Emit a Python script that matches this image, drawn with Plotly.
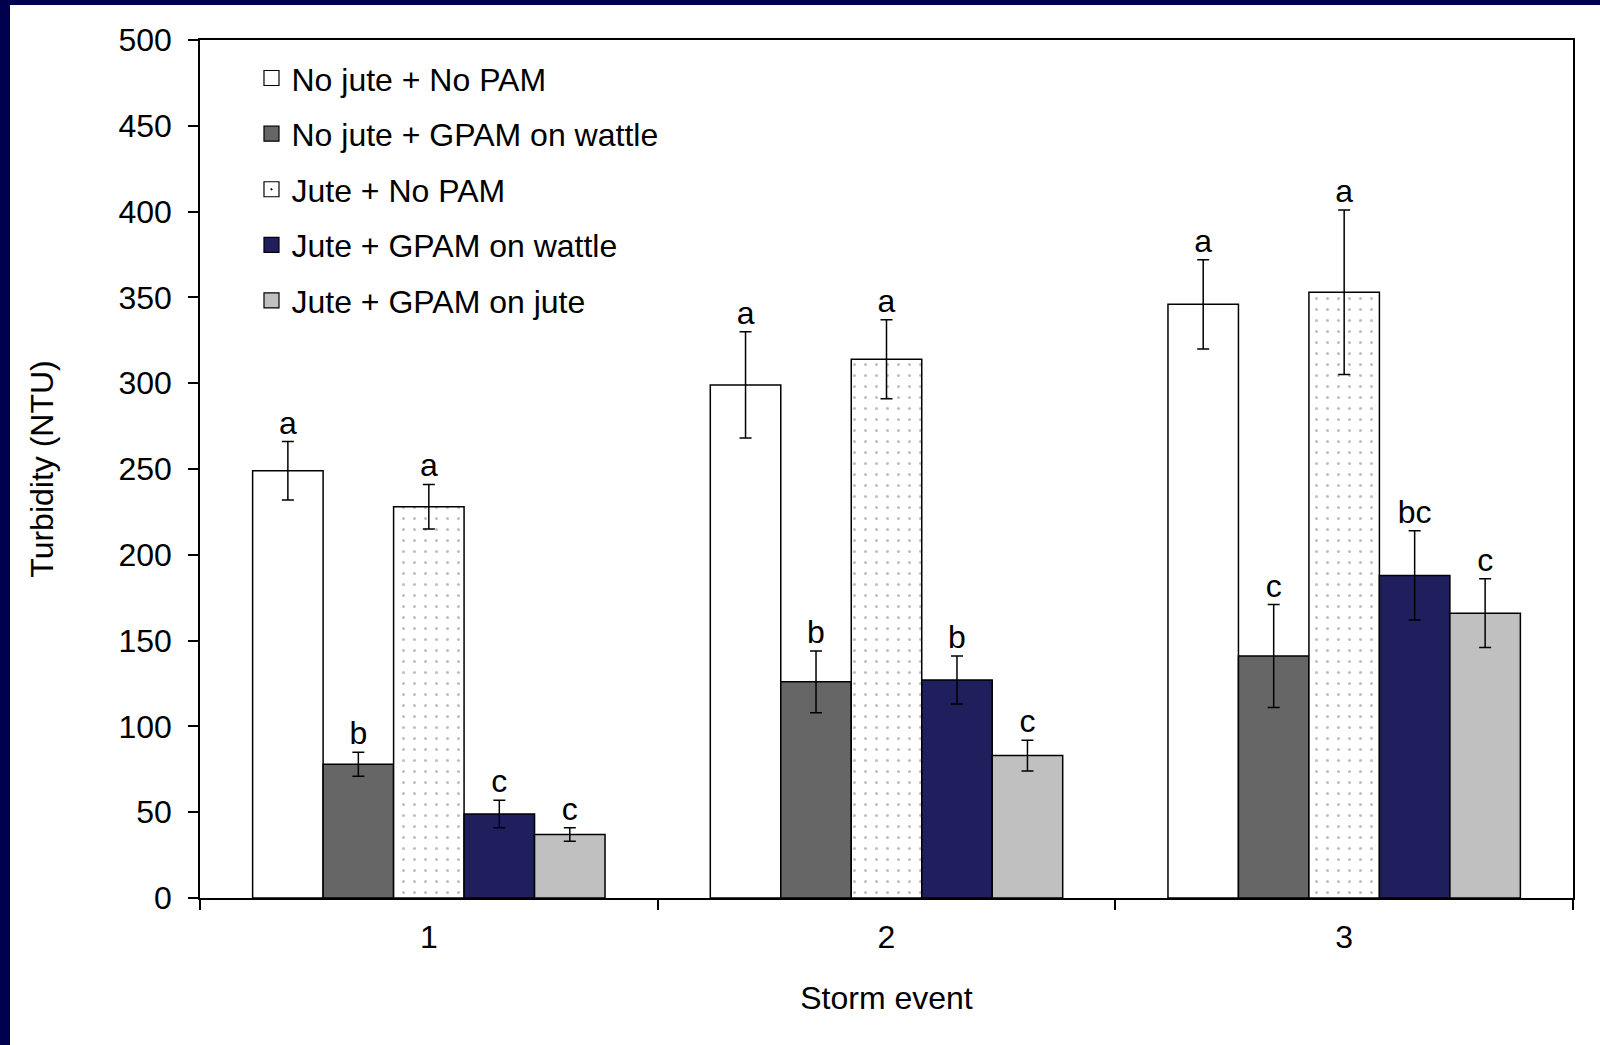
import plotly.graph_objects as go

# ---- data ----
storm_events = ["1", "2", "3"]
series_names = [
    "No jute + No PAM",
    "No jute + GPAM on wattle",
    "Jute + No PAM",
    "Jute + GPAM on wattle",
    "Jute + GPAM on jute",
]
no_jute_no_pam = [249, 299, 346]
no_jute_gpam_wattle = [78, 126, 141]
jute_no_pam = [228, 314, 353]
jute_gpam_wattle = [49, 127, 188]
jute_gpam_jute = [37, 83, 166]

err_no_jute_no_pam = [17, 31, 26]
err_no_jute_gpam_wattle = [7, 18, 30]
err_jute_no_pam = [13, 23, 48]
err_jute_gpam_wattle = [8, 14, 26]
err_jute_gpam_jute = [4, 9, 20]

letters_no_jute_no_pam = ["a", "a", "a"]
letters_no_jute_gpam_wattle = ["b", "b", "c"]
letters_jute_no_pam = ["a", "a", "a"]
letters_jute_gpam_wattle = ["c", "b", "bc"]
letters_jute_gpam_jute = ["c", "c", "c"]

y_ticks = [0, 50, 100, 150, 200, 250, 300, 350, 400, 450, 500]

values = [no_jute_no_pam, no_jute_gpam_wattle, jute_no_pam, jute_gpam_wattle, jute_gpam_jute]
errors = [err_no_jute_no_pam, err_no_jute_gpam_wattle, err_jute_no_pam, err_jute_gpam_wattle, err_jute_gpam_jute]
letters = [letters_no_jute_no_pam, letters_no_jute_gpam_wattle, letters_jute_no_pam,
           letters_jute_gpam_wattle, letters_jute_gpam_jute]

# ---- styles ----
FONT = "Arial, Liberation Sans, sans-serif"
FS = 32
fills = ["#FFFFFF", "#666666", "#FFFFFF", "#1F1F5E", "#C0C0C0"]
patterns = [None, None, dict(shape=".", fgcolor="#808080", bgcolor="#FFFFFF", size=11, solidity=0.06),
            None, None]
legend_symbols = ["square", "square", "square-dot", "square", "square"]
NAVY = "#00004E"

fig = go.Figure()
for i, name in enumerate(series_names):
    marker = dict(color=fills[i], line=dict(color="black", width=1.5))
    if patterns[i] is not None:
        marker["pattern"] = patterns[i]
    fig.add_trace(go.Bar(
        x=storm_events, y=values[i], name=name, marker=marker,
        offsetgroup=str(i), showlegend=False,
        error_y=dict(type="data", array=errors[i], visible=True, color="black",
                     thickness=1.5, width=6),
    ))

for i, name in enumerate(series_names):
    tops = [v + e for v, e in zip(values[i], errors[i])]
    fig.add_trace(go.Scatter(
        x=storm_events, y=tops, text=letters[i], mode="text",
        textposition="top center", offsetgroup=str(i),
        textfont=dict(family=FONT, size=FS, color="black"),
        showlegend=False, hoverinfo="skip", cliponaxis=False,
    ))

# legend entries
for i, name in enumerate(series_names):
    fig.add_trace(go.Scatter(
        x=[None], y=[None], mode="markers", name=name, offsetgroup=str(i),
        legendgroup=str(i),
        marker=dict(symbol=legend_symbols[i], size=15, color=fills[i],
                    line=dict(color="black", width=1.2)),
        hoverinfo="skip",
    ))

PW, PH = 1373, 858
ML, MT, MB, MR = 200, 40, 147, 27
shapes = [
    dict(type="rect", xref="paper", yref="paper", x0=-ML / PW, x1=-(ML - 10) / PW,
         y0=-MB / PH, y1=1 + MT / PH, fillcolor=NAVY, line=dict(width=0), layer="above"),
    dict(type="rect", xref="paper", yref="paper", x0=-ML / PW, x1=1 + MR / PW,
         y0=1 + (MT - 5) / PH, y1=1 + MT / PH, fillcolor=NAVY, line=dict(width=0), layer="above"),
]

fig.update_layout(
    width=1600, height=1045,
    margin=dict(l=ML, r=MR, t=MT, b=MB, pad=0),
    paper_bgcolor="white", plot_bgcolor="white",
    barmode="group", bargap=0.23, bargroupgap=0,
    scattermode="group", scattergap=0.23,
    font=dict(family=FONT, size=FS, color="black"),
    showlegend=True,
    legend=dict(x=0.0375, y=0.9875, xanchor="left", yanchor="top",
                bgcolor="rgba(0,0,0,0)", font=dict(family=FONT, size=FS),
                tracegroupgap=11, itemwidth=30, itemsizing="trace"),
    shapes=shapes,
)
fig.update_xaxes(
    type="category", showline=True, linecolor="black", linewidth=1.5, mirror=True,
    ticks="outside", tickson="boundaries", ticklen=10, tickwidth=1.5, tickcolor="black",
    showgrid=False, zeroline=False, ticklabelstandoff=10,
    tickfont=dict(family=FONT, size=FS),
    title=dict(text="Storm event", font=dict(family=FONT, size=FS), standoff=32),
)
fig.update_yaxes(
    range=[0, 500], tickvals=y_ticks, showline=True, linecolor="black", linewidth=1.5,
    mirror=True, ticks="outside", ticklen=10, tickwidth=1.5, tickcolor="black",
    showgrid=False, zeroline=False, ticklabelstandoff=10,
    tickfont=dict(family=FONT, size=FS),
    title=dict(text="Turbidity (NTU)", font=dict(family=FONT, size=FS), standoff=55),
)

fig.write_html("out.html", config={"displayModeBar": False},
               post_script="document.body.style.margin='0px';")
